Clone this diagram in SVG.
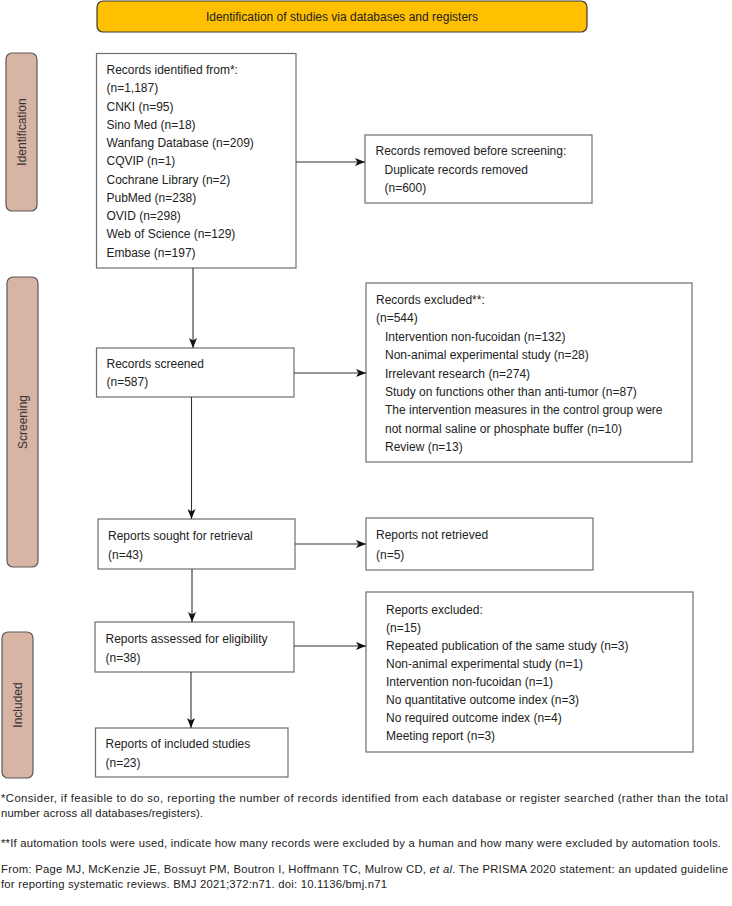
<svg xmlns="http://www.w3.org/2000/svg" width="732" height="906" viewBox="0 0 732 906">
<style>
text{font-family:"Liberation Sans",Arial,Helvetica,sans-serif;fill:#222;}
.t{font-size:12px;}
.fn{font-size:11.3px;fill:#222;}
.box{fill:#fff;stroke:#6e6e6e;stroke-width:1.2;}
.side{fill:#d8b4a4;stroke:#5a5a5a;stroke-width:1.2;}
.side-t{font-size:12px;fill:#333;}
.banner{fill:#ffc000;stroke:#3a3a3a;stroke-width:1.2;}
.c{stroke:#333;stroke-width:1.1;fill:none;marker-end:url(#ah);}
</style>
<defs>
<marker id="ah" viewBox="0 0 10 8" refX="10" refY="4" markerWidth="10" markerHeight="8" markerUnits="userSpaceOnUse" orient="auto">
<path d="M0,0 L10,4 L0,8 L2.5,4 Z" fill="#111"/>
</marker>
</defs>
<rect width="732" height="906" fill="#fff"/>

<g id="banner">
<rect class="banner" x="97" y="1" width="490" height="31" rx="6"/>
<text class="t" x="342" y="20.5" text-anchor="middle">Identification of studies via databases and registers</text>
</g>

<g id="label-identification">
<rect class="side" x="6" y="53" width="31" height="158" rx="6"/>
<text class="side-t" transform="translate(26,132) rotate(-90)" text-anchor="middle">Identification</text>
</g>
<g id="label-screening">
<rect class="side" x="7" y="277" width="31" height="290" rx="6"/>
<text class="side-t" transform="translate(27,422) rotate(-90)" text-anchor="middle">Screening</text>
</g>
<g id="label-included">
<rect class="side" x="2" y="632" width="31" height="146" rx="6"/>
<text class="side-t" transform="translate(21.5,705) rotate(-90)" text-anchor="middle">Included</text>
</g>

<g id="records-identified">
<rect class="box" x="96.5" y="53.5" width="199.5" height="214.5"/>
<text class="t" x="106.5">
<tspan x="106.5" y="74">Records identified from*:</tspan>
<tspan x="106.5" y="92.2">(n=1,187)</tspan>
<tspan x="106.5" y="110.5">CNKI (n=95)</tspan>
<tspan x="106.5" y="128.7">Sino Med (n=18)</tspan>
<tspan x="106.5" y="147">Wanfang Database (n=209)</tspan>
<tspan x="106.5" y="165.2">CQVIP (n=1)</tspan>
<tspan x="106.5" y="183.5">Cochrane Library (n=2)</tspan>
<tspan x="106.5" y="201.7">PubMed (n=238)</tspan>
<tspan x="106.5" y="220">OVID (n=298)</tspan>
<tspan x="106.5" y="238.2">Web of Science (n=129)</tspan>
<tspan x="106.5" y="256.5">Embase (n=197)</tspan>
</text>
</g>

<g id="records-removed">
<rect class="box" x="365" y="135" width="227" height="68"/>
<text class="t">
<tspan x="375.5" y="155">Records removed before screening:</tspan>
<tspan x="384.5" y="173.5">Duplicate records removed</tspan>
<tspan x="384.5" y="192">(n=600)</tspan>
</text>
</g>

<g id="records-screened">
<rect class="box" x="96.5" y="348" width="197.5" height="49"/>
<text class="t">
<tspan x="106.5" y="367.5">Records screened</tspan>
<tspan x="106.5" y="386">(n=587)</tspan>
</text>
</g>

<g id="records-excluded">
<rect class="box" x="366" y="283" width="326" height="179"/>
<text class="t">
<tspan x="376" y="304">Records excluded**:</tspan>
<tspan x="376" y="322.4">(n=544)</tspan>
<tspan x="385" y="340.8">Intervention non-fucoidan (n=132)</tspan>
<tspan x="385" y="359.2">Non-animal experimental study (n=28)</tspan>
<tspan x="385" y="377.6">Irrelevant research (n=274)</tspan>
<tspan x="385" y="396">Study on functions other than anti-tumor (n=87)</tspan>
<tspan x="385" y="414.4">The intervention measures in the control group were</tspan>
<tspan x="385" y="432.8">not normal saline or phosphate buffer (n=10)</tspan>
<tspan x="385" y="451.2">Review (n=13)</tspan>
</text>
</g>

<g id="reports-sought">
<rect class="box" x="98" y="519" width="197" height="50"/>
<text class="t">
<tspan x="108" y="540">Reports sought for retrieval</tspan>
<tspan x="108" y="559">(n=43)</tspan>
</text>
</g>

<g id="reports-not-retrieved">
<rect class="box" x="366" y="518" width="227" height="52"/>
<text class="t">
<tspan x="376" y="539">Reports not retrieved</tspan>
<tspan x="376" y="559">(n=5)</tspan>
</text>
</g>

<g id="reports-assessed">
<rect class="box" x="95" y="622" width="199" height="50"/>
<text class="t">
<tspan x="105.5" y="643">Reports assessed for eligibility</tspan>
<tspan x="105.5" y="662">(n=38)</tspan>
</text>
</g>

<g id="reports-excluded">
<rect class="box" x="366" y="592" width="327" height="160"/>
<text class="t">
<tspan x="386" y="614">Reports excluded:</tspan>
<tspan x="386" y="632">(n=15)</tspan>
<tspan x="386" y="650">Repeated publication of the same study (n=3)</tspan>
<tspan x="386" y="668">Non-animal experimental study (n=1)</tspan>
<tspan x="386" y="686">Intervention non-fucoidan (n=1)</tspan>
<tspan x="386" y="704">No quantitative outcome index (n=3)</tspan>
<tspan x="386" y="722">No required outcome index (n=4)</tspan>
<tspan x="386" y="740">Meeting report (n=3)</tspan>
</text>
</g>

<g id="reports-included">
<rect class="box" x="95.5" y="728" width="192.5" height="49"/>
<text class="t">
<tspan x="105.5" y="747.5">Reports of included studies</tspan>
<tspan x="105.5" y="766.5">(n=23)</tspan>
</text>
</g>

<g id="connectors">
<path class="c" d="M296,162 H365"/>
<path class="c" d="M193,268 V348"/>
<path class="c" d="M294,373 H366"/>
<path class="c" d="M191.5,397 V519"/>
<path class="c" d="M295,544 H366"/>
<path class="c" d="M192,569 V622"/>
<path class="c" d="M294,646 H366"/>
<path class="c" d="M191,672 V728"/>
</g>

<g id="footnotes">
<text class="fn" x="1" y="802" textLength="727" lengthAdjust="spacing">*Consider, if feasible to do so, reporting the number of records identified from each database or register searched (rather than the total</text>
<text class="fn" x="1" y="817" textLength="202" lengthAdjust="spacing">number across all databases/registers).</text>
<text class="fn" x="1" y="847" textLength="720" lengthAdjust="spacing">**If automation tools were used, indicate how many records were excluded by a human and how many were excluded by automation tools.</text>
<text class="fn" x="1" y="873" textLength="727" lengthAdjust="spacing">From: Page MJ, McKenzie JE, Bossuyt PM, Boutron I, Hoffmann TC, Mulrow CD, <tspan font-style="italic">et al</tspan>. The PRISMA 2020 statement: an updated guideline</text>
<text class="fn" x="1" y="888" textLength="386" lengthAdjust="spacing">for reporting systematic reviews. BMJ 2021;372:n71. doi: 10.1136/bmj.n71</text>
</g>
</svg>
